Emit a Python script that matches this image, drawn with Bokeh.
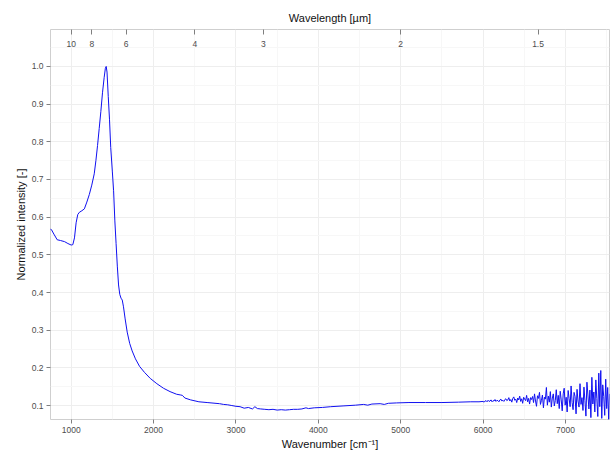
from bokeh.plotting import figure
from bokeh.models import LinearAxis, FixedTicker, Range1d, ColumnDataSource, CustomJSTickFormatter
from bokeh.core.properties import value
from bokeh.embed import file_html
from bokeh.resources import INLINE

# ---- data ----
wavenumber_smooth = [
    735, 760, 790, 830, 870, 920, 960, 1000, 1020, 1040, 1060, 1080, 1100, 1130,
    1160, 1190, 1220, 1250, 1280, 1300, 1320, 1340, 1360, 1380, 1400, 1415, 1425,
    1435, 1450, 1465, 1480, 1500, 1515, 1530, 1545, 1560, 1575, 1590, 1605, 1620,
    1635, 1655, 1680, 1710, 1740, 1780, 1830, 1890, 1960, 2040, 2120, 2200, 2280,
    2330, 2350, 2380, 2450, 2550, 2650, 2800, 2850, 2900, 2950, 3000, 3050, 3100,
    3150, 3200, 3230, 3260, 3300, 3350, 3400, 3450, 3500, 3550, 3600, 3650, 3700,
    3750, 3800, 3850, 3880, 3950, 4050, 4150, 4300, 4450, 4550, 4600, 4650, 4750,
    4800, 4850, 4950, 5100, 5300, 5500, 5700, 5850, 5950,
]
intensity_smooth = [
    0.569, 0.567, 0.555, 0.540, 0.538, 0.535, 0.530, 0.526, 0.527, 0.545, 0.585,
    0.607, 0.613, 0.617, 0.622, 0.640, 0.660, 0.685, 0.715, 0.750, 0.790, 0.835,
    0.880, 0.930, 0.970, 0.995, 1.000, 0.985, 0.920, 0.860, 0.785, 0.720, 0.670,
    0.590, 0.530, 0.470, 0.420, 0.395, 0.385, 0.380, 0.362, 0.330, 0.295, 0.265,
    0.245, 0.224, 0.204, 0.188, 0.172, 0.158, 0.146, 0.137, 0.130, 0.128, 0.127,
    0.120, 0.115, 0.110, 0.108, 0.105, 0.103, 0.102, 0.100, 0.098, 0.097, 0.093,
    0.095, 0.091, 0.097, 0.092, 0.091, 0.090, 0.089, 0.090, 0.088, 0.089, 0.088,
    0.089, 0.090, 0.090, 0.091, 0.094, 0.092, 0.094, 0.095, 0.097, 0.099, 0.101,
    0.103, 0.101, 0.104, 0.105, 0.103, 0.106, 0.107, 0.108, 0.108, 0.108, 0.109,
    0.110, 0.110,
]
wavenumber_noisy = [
    6000, 6012, 6024, 6036, 6048, 6060, 6072, 6084, 6096, 6108, 6120, 6132, 6144,
    6156, 6168, 6180, 6192, 6204, 6216, 6228, 6240, 6252, 6264, 6276, 6288, 6300,
    6312, 6324, 6336, 6348, 6360, 6372, 6384, 6396, 6408, 6420, 6432, 6444, 6456,
    6468, 6480, 6492, 6504, 6516, 6528, 6540, 6552, 6564, 6576, 6588, 6600,
    6612, 6624, 6636, 6648, 6660, 6672, 6684, 6696, 6708, 6720, 6732, 6744, 6756,
    6768, 6780, 6792, 6804, 6816, 6828, 6840, 6852, 6864, 6876, 6888, 6900,
    6912, 6924, 6936, 6948, 6960, 6972, 6984, 6996, 7008, 7020, 7032, 7044, 7056,
    7068, 7080, 7092, 7104, 7116, 7128, 7140, 7152, 7164, 7176, 7188, 7200,
    7212, 7224, 7236, 7248, 7260, 7272, 7284, 7296, 7308, 7320, 7332, 7344, 7356,
    7368, 7380, 7392, 7404, 7416, 7428, 7440, 7452, 7464, 7476, 7488, 7500, 7512,
    7524, 7536,
]
intensity_noisy = [
    0.111, 0.109, 0.112, 0.113, 0.110, 0.114, 0.111, 0.112, 0.115, 0.110, 0.113,
    0.112, 0.116, 0.111, 0.114, 0.113, 0.110, 0.115, 0.117, 0.112, 0.114, 0.111,
    0.116, 0.118, 0.113, 0.115,
    0.121, 0.112, 0.116, 0.109, 0.119, 0.123, 0.114, 0.117, 0.108, 0.120, 0.115,
    0.125, 0.111, 0.118, 0.106, 0.122, 0.117, 0.113, 0.127, 0.110, 0.119, 0.104,
    0.121, 0.116, 0.124,
    0.108, 0.131, 0.112, 0.098, 0.126, 0.119, 0.135, 0.103, 0.114, 0.128, 0.094,
    0.122, 0.117, 0.148, 0.101, 0.125, 0.109, 0.137, 0.096, 0.120, 0.131, 0.099,
    0.113, 0.142, 0.105,
    0.127, 0.092, 0.138, 0.115, 0.086, 0.131, 0.146, 0.101, 0.122, 0.083, 0.140,
    0.118, 0.097, 0.152, 0.108, 0.089, 0.135, 0.124, 0.078, 0.143, 0.112, 0.096,
    0.158, 0.103, 0.121,
    0.087, 0.149, 0.113, 0.072, 0.162, 0.128, 0.091, 0.141, 0.068, 0.175, 0.104,
    0.136, 0.083, 0.168, 0.119, 0.071, 0.186, 0.097, 0.193, 0.066, 0.155, 0.124,
    0.074, 0.170, 0.092, 0.148, 0.063, 0.131,
]

x_ticks = [1000, 2000, 3000, 4000, 5000, 6000, 7000]
x_minor = [500, 1500, 2500, 3500, 4500, 5500, 6500, 7500]
y_ticks = [0.1, 0.2, 0.3, 0.4, 0.5, 0.6, 0.7, 0.8, 0.9, 1.0]
y_minor = [0.05, 0.15, 0.25, 0.35, 0.45, 0.55, 0.65, 0.75, 0.85, 0.95, 1.05]
wavelength_ticks = [10, 8, 6, 4, 3, 2, 1.5]
wavelength_labels = ["10", "8", "6", "4", "3", "2", "1.5"]

X_RANGE = (749, 7534)
Y_RANGE = (0.063, 1.098)

FONT = "Liberation Sans"
TICK_COLOR = "#7F7F7F"
LABEL_COLOR = "#4D4D4D"

wavenumber = wavenumber_smooth + wavenumber_noisy
intensity = intensity_smooth + intensity_noisy
assert len(wavenumber) == len(intensity)

p = figure(width=611, height=452, output_backend="svg", toolbar_location=None,
           x_range=Range1d(*X_RANGE), y_range=Range1d(*Y_RANGE),
           min_border_left=50, min_border_right=2, min_border_top=29,
           min_border_bottom=32)
p.background_fill_color = "white"
p.border_fill_color = "white"
p.outline_line_color = "#CFCFCF"
p.outline_line_width = 1

p.line(wavenumber, intensity, line_color="#1010F0", line_width=1)

xa = p.xaxis[0]
xa.ticker = FixedTicker(ticks=x_ticks, minor_ticks=x_minor)
xa.axis_label = "Wavenumber [cm⁻¹]"
ya = p.yaxis[0]
ya.ticker = FixedTicker(ticks=y_ticks, minor_ticks=y_minor)
ya.axis_label = "Normalized intensity [-]"
ya.formatter = CustomJSTickFormatter(code="return tick.toFixed(1);")

for ax in (xa, ya):
    ax.axis_line_color = None
    ax.major_tick_line_color = TICK_COLOR
    ax.major_tick_in = 0
    ax.major_tick_out = 4
    ax.minor_tick_line_color = None
    ax.major_label_text_font = FONT
    ax.major_label_text_font_size = "8.5px"
    ax.major_label_text_color = LABEL_COLOR
    ax.major_label_standoff = 3
    ax.axis_label_text_font = FONT
    ax.axis_label_text_font_size = "11px"
    ax.axis_label_text_font_style = "normal"
    ax.axis_label_text_color = "#111111"
    ax.axis_label_standoff = 2

p.xgrid.grid_line_color = "#EEEEEE"
p.ygrid.grid_line_color = "#EEEEEE"
p.xgrid.minor_grid_line_color = "#F7F7F7"
p.ygrid.minor_grid_line_color = "#F7F7F7"

# top wavelength axis (ticks pointing into the panel)
wl_pos = [10000.0 / w for w in wavelength_ticks]
top = LinearAxis(ticker=FixedTicker(ticks=wl_pos, minor_ticks=[]),
                 axis_label="Wavelength [µm]")
top.axis_line_color = None
top.major_tick_line_color = TICK_COLOR
top.major_tick_in = 5
top.major_tick_out = 0
top.major_label_text_font_size = "0px"
top.major_label_text_alpha = 0
top.major_label_standoff = 0
top.axis_label_text_font = FONT
top.axis_label_text_font_size = "11px"
top.axis_label_text_font_style = "normal"
top.axis_label_text_color = "#111111"
top.axis_label_standoff = 6
p.add_layout(top, "above")

label_y = Y_RANGE[1] - 0.038 * (Y_RANGE[1] - Y_RANGE[0])
src = ColumnDataSource(dict(x=wl_pos, y=[label_y] * len(wl_pos), t=wavelength_labels))
p.text(x="x", y="y", text="t", source=src, text_font=value(FONT),
       text_font_size="8.5px", text_color=LABEL_COLOR,
       text_align="center", text_baseline="middle")

open("out.html", "w").write(file_html(p, INLINE))
